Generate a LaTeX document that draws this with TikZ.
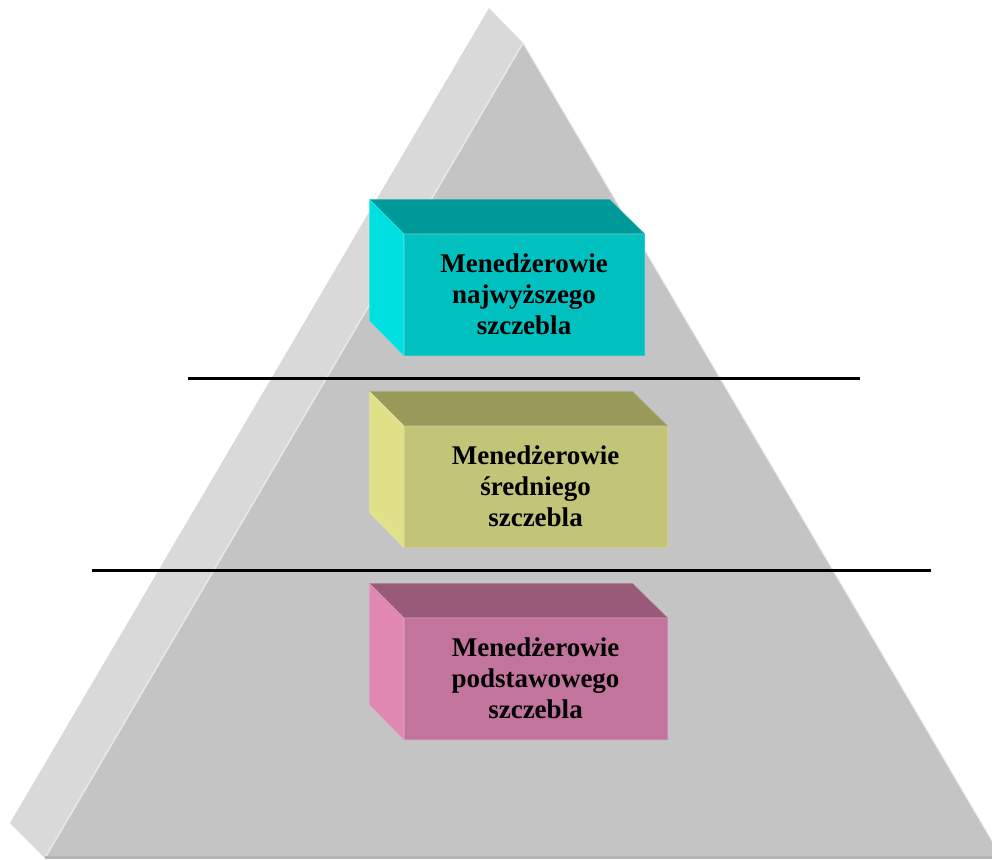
\documentclass[tikz,border=0pt]{standalone}
\usepackage{fontspec}
\setmainfont{Liberation Serif}
\definecolor{pyrleft}{HTML}{D9D9D9}
\definecolor{pyrfront}{HTML}{C4C4C4}
\definecolor{pyredge}{HTML}{E8E8E8}
\definecolor{pyrbottom}{HTML}{B4B4B4}
\definecolor{tealF}{HTML}{00C0C0}
\definecolor{tealT}{HTML}{009999}
\definecolor{tealL}{HTML}{00E0E0}
\definecolor{oliveF}{HTML}{C2C478}
\definecolor{oliveT}{HTML}{999959}
\definecolor{oliveL}{HTML}{E0E088}
\definecolor{pinkF}{HTML}{C2749C}
\definecolor{pinkT}{HTML}{995A7A}
\definecolor{pinkL}{HTML}{E087B2}
\tikzset{
  frontbox/.style={draw=#1!85!white, line width=0.6pt, inner sep=0pt, align=center,
    font=\bfseries\fontsize{27}{31}\selectfont, text=black},
  sidebox/.style={draw=#1!85!white, line width=0.6pt, line join=round},
  divider/.style={line width=3pt, black}
}
\begin{document}
\begin{tikzpicture}[x=1pt, y=-1pt]
\useasboundingbox (0,0) rectangle (992,859);
\begin{scope}
\clip (0,0) rectangle (992,859);
% pyramid left face
\fill[pyrleft] (489,8) -- (523,43) -- (45,858) -- (10,823) -- cycle;
% pyramid front face
\fill[pyrfront] (523,43) -- (1002,858) -- (45,858) -- cycle;
\draw[pyredge, line width=1.5pt] (523,43) -- (45,858);
\draw[pyredge, line width=1pt] (523,43) -- (1002,858);
\draw[pyrbottom, line width=3pt] (45,857.5) -- (1002,857.5);
\end{scope}
% dividers
\coordinate (d1a) at (188,378); \coordinate (d1b) at (860,378);
\coordinate (d2a) at (92,570);  \coordinate (d2b) at (931,570);
\draw[divider] (d1a) -- (d1b);
\draw[divider] (d2a) -- (d2b);
% top box
\node[frontbox=tealF, fill=tealF, minimum width=240pt, minimum height=121pt] (top) at (524,294.5)
  {Menedżerowie\\najwyższego\\szczebla};
\filldraw[sidebox=tealT, fill=tealT] (top.north west) -- ++(-34,-34) -- ++(240,0) -- (top.north east) -- cycle;
\filldraw[sidebox=tealL, fill=tealL] (top.north west) -- ++(-34,-34) -- ++(0,121) -- (top.south west) -- cycle;
% middle box
\node[frontbox=oliveF, fill=oliveF, minimum width=263pt, minimum height=121pt] (mid) at (535.5,486.5)
  {Menedżerowie\\średniego\\szczebla};
\filldraw[sidebox=oliveT, fill=oliveT] (mid.north west) -- ++(-34,-34) -- ++(263,0) -- (mid.north east) -- cycle;
\filldraw[sidebox=oliveL, fill=oliveL] (mid.north west) -- ++(-34,-34) -- ++(0,121) -- (mid.south west) -- cycle;
% bottom box
\node[frontbox=pinkF, fill=pinkF, minimum width=263pt, minimum height=121pt] (low) at (535.5,678.5)
  {Menedżerowie\\podstawowego\\szczebla};
\filldraw[sidebox=pinkT, fill=pinkT] (low.north west) -- ++(-34,-34) -- ++(263,0) -- (low.north east) -- cycle;
\filldraw[sidebox=pinkL, fill=pinkL] (low.north west) -- ++(-34,-34) -- ++(0,121) -- (low.south west) -- cycle;
\end{tikzpicture}
\end{document}
